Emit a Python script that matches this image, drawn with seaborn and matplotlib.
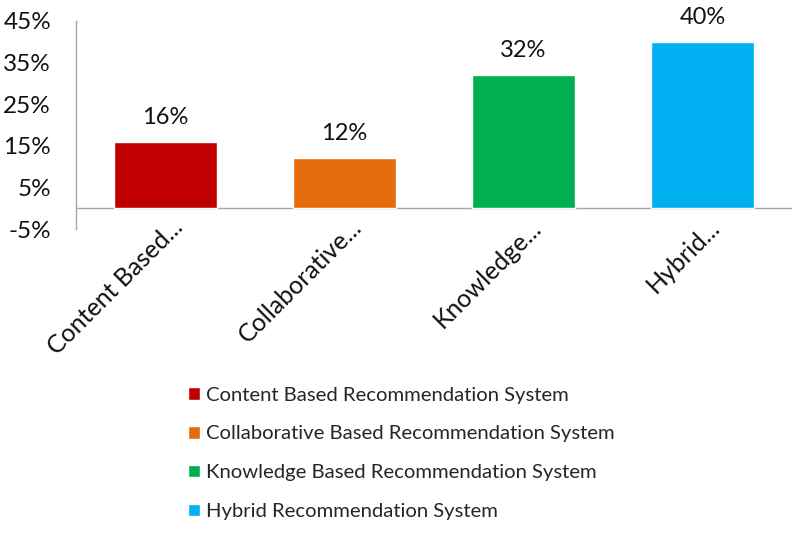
import matplotlib
matplotlib.use("Agg")
import matplotlib.pyplot as plt
import matplotlib.transforms as mtransforms
import seaborn as sns
import pandas as pd

short_labels = ["Content Based...", "Collaborative...", "Knowledge...", "Hybrid..."]
full_labels = [
    "Content Based Recommendation System",
    "Collaborative Based Recommendation System",
    "Knowledge Based Recommendation System",
    "Hybrid Recommendation System",
]
values = [16, 12, 32, 40]
colors = ["#C00000", "#E46C0A", "#00B050", "#00B0F0"]
y_ticks = [-5, 5, 15, 25, 35, 45]

sns.set_theme(style="white")
plt.rcParams["font.family"] = ["Lato", "DejaVu Sans"]

df = pd.DataFrame({"short": short_labels, "full": full_labels, "value": values})

fig = plt.figure(figsize=(8, 5.33), dpi=100)
ax = fig.add_axes([0.095, 0.5703, 0.895, 0.3906])

sns.barplot(data=df, x="short", y="value", hue="full", palette=colors,
            dodge=False, width=0.57, ax=ax, saturation=1)

ax.set_ylim(-5, 45)
ax.set_xlim(-0.5, 3.5)
ax.set_yticks(y_ticks)
ax.set_yticklabels([f"{t}%" for t in y_ticks], fontsize=17.5, color="#111111")
ax.tick_params(axis="y", length=0, pad=18)
ax.tick_params(axis="x", length=0, pad=0)
ax.set_xlabel("")
ax.set_ylabel("")
shift = mtransforms.ScaledTranslation(0.19, 0.0, fig.dpi_scale_trans)
for lbl in ax.get_xticklabels():
    lbl.set_rotation(45)
    lbl.set_rotation_mode("anchor")
    lbl.set_ha("right")
    lbl.set_va("baseline")
    lbl.set_fontsize(18)
    lbl.set_color("#111111")
    lbl.set_transform(lbl.get_transform() + shift)

for c in ax.containers:
    ax.bar_label(c, labels=[f"{v:.0f}%" for v in c.datavalues], padding=10,
                 fontsize=17, color="#111111")

for s in ["top", "right", "bottom"]:
    ax.spines[s].set_visible(False)
ax.spines["left"].set_color("#A6A6A6")
ax.spines["left"].set_linewidth(1)
ax.axhline(0, color="#A6A6A6", lw=1, zorder=0)

sns.move_legend(ax, loc="upper left", bbox_to_anchor=(0.2125, 0.309),
                bbox_transform=fig.transFigure, frameon=False, title=None,
                fontsize=14.6, handlelength=0.57, handleheight=0.57,
                handletextpad=0.3, labelspacing=1.08)

fig.savefig("out.png", dpi=100)
